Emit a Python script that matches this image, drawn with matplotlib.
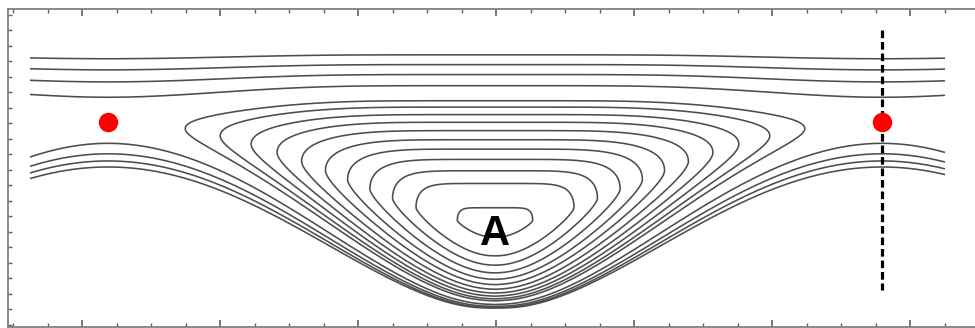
import numpy as np
import matplotlib
matplotlib.use("Agg")
import matplotlib.pyplot as plt
from matplotlib.ticker import FixedLocator

# ---- frame (data units follow the drawing grid, y grows downward) ----
x_frame = (8.0, 975.0)
y_frame = (327.0, 9.0)
x_field = (30.0, 945.0)           # horizontal extent of the computed field

# ---- island chain geometry ----
o_point = (495.0, 225.0)          # O-point of the island
x_points_x = [108.0, 882.0]       # X-points (red markers)
x_point_y = 122.0
period = x_points_x[1] - x_points_x[0]
floor_bottom = 308.0              # lowest open line under the O-point
floor_at_x = 167.0                # lowest open line under the X-points

# flux-surface levels: closed surfaces inside the island, open ones outside
closed_levels = [0.08, 0.24, 0.335, 0.425, 0.51, 0.59, 0.67, 0.745, 0.815, 0.885, 0.945]
open_levels = [1.09, 1.20, 1.30, 1.40]

# vertical cut through the right X-point
cut_x = 882.0
cut_y = (30.0, 290.0)

label_text = "A"
label_pos = (495.0, 245.0)

# ---- tick positions ----
xtick_minor = np.arange(13.0, 976.0, 34.5)
xtick_major = np.arange(82.0, 976.0, 138.0)
ytick_minor = np.arange(15.0, 327.0, 15.5)

# ---- field model ----
smooth_flux = 0.13   # rounds the O-point of the flux function
smooth_geom = 0.35   # rounds the line of island tips
smooth_floor = 0.12  # rounds the bottom of the V
tau0 = 0.35          # rounding of the island corners
depth = o_point[1] - x_point_y
psi_max = max(open_levels)


def phase(x):
    return np.abs(np.sin(np.pi * (x - o_point[0]) / period))


def well(x, a):
    w = np.sqrt(phase(x) ** 2 + a ** 2) - a
    return w / (np.sqrt(1 + a ** 2) - a)


def top_level(p):
    return o_point[1] - 130.0 * np.power(p, 0.8)


def lower_fraction(r, w):
    rc = np.minimum(r, 1.0)
    centre = 0.9 * np.sin(0.5 * np.pi * rc) ** 2 + 0.1 * r
    return (1 - w) * centre + w * r


def mapped_grid(x0, x1, nx=900, nt=1201):
    xg = np.linspace(x0, x1, nx)
    tg = np.linspace(-1.45, 1.45, nt)
    xx, tt = np.meshgrid(xg, tg)
    u0 = phase(xx)
    u = well(xx, smooth_flux)
    us = well(xx, smooth_geom)
    uf = well(xx, smooth_floor)
    psi = tt ** 2 + u
    mid = o_point[1] - depth * us
    tau = tau0 * np.sqrt(u) + 0.01
    y_up = mid - (mid - top_level(psi)) * np.tanh(np.abs(tt) / tau)
    floor = floor_bottom - (floor_bottom - floor_at_x) * uf ** 1.5
    r = np.abs(tt) / np.sqrt(psi_max - u)
    y_lo = mid + (floor - mid) * lower_fraction(r, u0)
    return xx, np.where(tt >= 0, y_up, y_lo), psi


fig = plt.figure(figsize=(9.75, 3.28), dpi=100)
ax = fig.add_axes([x_frame[0] / 975, 1 - 327 / 328, (x_frame[1] - x_frame[0]) / 975, (327 - 9) / 328])
ax.set_xlim(*x_frame)
ax.set_ylim(*y_frame)

line_col = "#4d4d4d"
# open field lines across the whole field
XX, YY, PSI = mapped_grid(*x_field)
ax.contour(XX, YY, PSI, levels=open_levels, colors=line_col, linewidths=1.15)
# closed surfaces of the central island
XI, YI, PI = mapped_grid(x_points_x[0], x_points_x[1])
ax.contour(XI, YI, PI, levels=closed_levels, colors=line_col, linewidths=1.15)

ax.plot([cut_x, cut_x], cut_y, color="black", lw=2.3,
        linestyle=(0, (2.4, 1.2)), zorder=3)
ax.plot(x_points_x, [x_point_y] * len(x_points_x), "o", color="#ff0000",
        markersize=14, markeredgewidth=0, zorder=4)
ax.text(label_pos[0], label_pos[1], label_text, fontsize=30, fontweight="bold",
        family="Liberation Sans", ha="center", va="baseline", zorder=5)

for side in ["left", "top", "bottom", "right"]:
    ax.spines[side].set_color("#808080")
    ax.spines[side].set_linewidth(1.3)
ax.spines["right"].set_visible(False)

ax.xaxis.set_major_locator(FixedLocator(xtick_major))
ax.xaxis.set_minor_locator(FixedLocator(xtick_minor))
ax.yaxis.set_major_locator(FixedLocator([]))
ax.yaxis.set_minor_locator(FixedLocator(ytick_minor))
ax.tick_params(which="both", direction="in", top=True, bottom=True, left=True,
               right=False, labelbottom=False, labelleft=False, color="#606060")
ax.tick_params(which="major", length=5, width=1.2)
ax.tick_params(which="minor", length=3, width=1.0)

fig.savefig("out.png", dpi=100)
